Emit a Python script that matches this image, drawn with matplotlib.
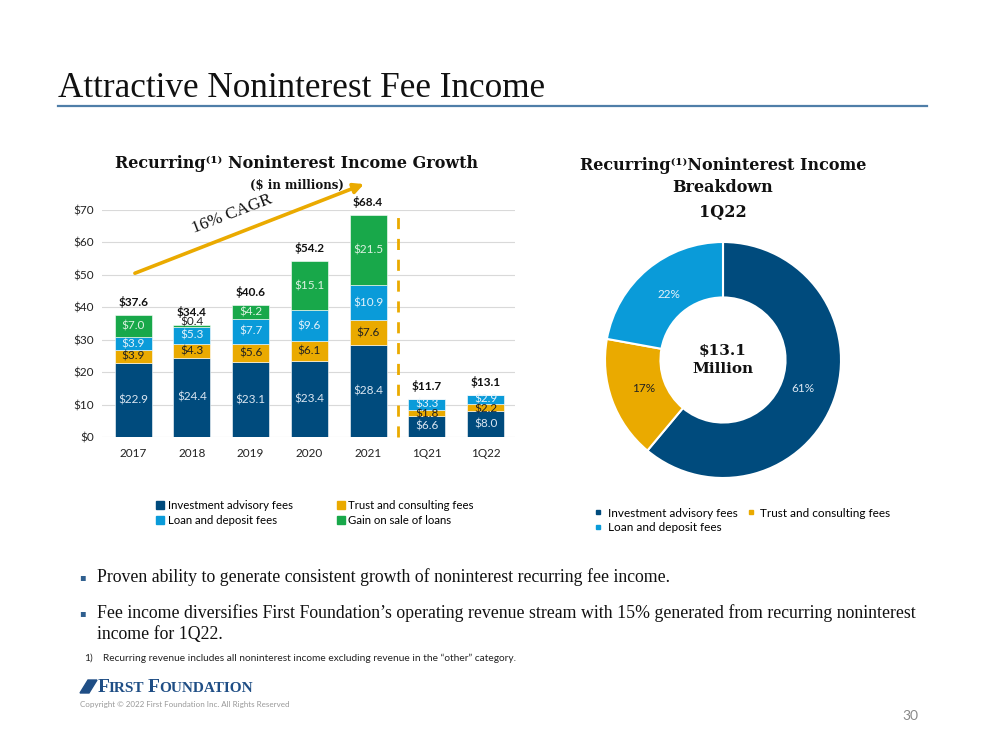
import matplotlib
matplotlib.use("Agg")
import matplotlib.pyplot as plt
import numpy as np
from matplotlib.patches import Rectangle, Polygon

# ---------------- data ----------------
categories = ["2017", "2018", "2019", "2020", "2021", "1Q21", "1Q22"]
investment = [22.9, 24.4, 23.1, 23.4, 28.4, 6.6, 8.0]
trust = [3.9, 4.3, 5.6, 6.1, 7.6, 1.8, 2.2]
loan = [3.9, 5.3, 7.7, 9.6, 10.9, 3.3, 2.9]
gain = [7.0, 0.4, 4.2, 15.1, 21.5, 0.0, 0.0]
totals = [37.6, 34.4, 40.6, 54.2, 68.4, 11.7, 13.1]
yticks = [0, 10, 20, 30, 40, 50, 60, 70]
series_names = ["Investment advisory fees", "Trust and consulting fees",
                "Loan and deposit fees", "Gain on sale of loans"]

pie_labels = ["Investment advisory fees", "Trust and consulting fees", "Loan and deposit fees"]
pie_values = [8.0, 2.2, 2.9]
pie_pct_text = ["61%", "17%", "22%"]

NAVY = "#004B7D"
GOLD = "#EAAA00"
BLUE = "#0A9BD9"
GREEN = "#18A84A"
colors = [NAVY, GOLD, BLUE, GREEN]

SANS = ["Lato", "DejaVu Sans"]
SERIF = ["DejaVu Serif"]
TSERIF = ["Liberation Serif", "DejaVu Serif"]

fig = plt.figure(figsize=(9.99, 7.5), dpi=100)

# ---------------- page title ----------------
fig.text(58 / 999, 1 - 97 / 750, "Attractive Noninterest Fee Income",
         family=TSERIF, fontsize=25.3, color="#111111", ha="left", va="baseline")
fig.add_artist(plt.Line2D([58 / 999, 927 / 999], [1 - 106 / 750, 1 - 106 / 750],
                          color="#4F7EA8", lw=1.6, transform=fig.transFigure))

# ---------------- bar chart ----------------
ax = fig.add_axes([102 / 999, 1 - 437 / 750, 413 / 999, 227 / 750])
x = np.arange(len(categories))
w = 0.63
bottoms = np.zeros(len(categories))
stack = [investment, trust, loan, gain]
for vals, c in zip(stack, colors):
    ax.bar(x, vals, w, bottom=bottoms, color=c, zorder=3, edgecolor="white", linewidth=0.4)
    bottoms = bottoms + np.array(vals)

ax.set_xlim(-0.53, 6.5)
ax.set_ylim(0, 70)
ax.set_yticks(yticks)
ax.set_yticklabels([f"${v}" for v in yticks], family=SANS, fontsize=8.5, color="#222222")
ax.set_xticks(x)
ax.set_xticklabels(categories, family=SANS, fontsize=8.5, color="#222222")
ax.tick_params(length=0, pad=8)
ax.tick_params(axis="y", pad=6)
ax.grid(axis="y", color="#D9D9D9", lw=0.8, zorder=0)
for s in ax.spines.values():
    s.set_visible(False)

lab_colors = ["#DCE7F2", "#222222", "#E4F2FB", "#DDF2E2"]
for i in range(len(categories)):
    base = 0.0
    for k, vals in enumerate(stack):
        v = vals[i]
        if v <= 0:
            continue
        if v < 1.0:
            ax.text(x[i], base + v + 1.0, f"${v:.1f}", ha="center", va="center",
                    family=SANS, fontsize=8.5, color="#222222", zorder=5)
        else:
            yc = base + v / 2
            col = lab_colors[k]
            if i >= 5 and k == 1:
                yc -= 0.5
            ax.text(x[i], yc, f"${v:.1f}", ha="center", va="center",
                    family=SANS, fontsize=8.5, color=col, zorder=5)
        base += v
    ax.text(x[i], totals[i] + 4.0, f"${totals[i]:.1f}", ha="center", va="center",
            family=SANS, fontsize=8.5, fontweight="bold", color="#111111", zorder=5,
            clip_on=False)

# dashed separator
ax.plot([4.5, 4.5], [0, 70.5], color=GOLD, lw=2, ls=(0, (4, 3.5)), zorder=4, clip_on=False)

# CAGR arrow
ax.annotate("", xy=(3.93, 78.0), xytext=(0.03, 50.5),
            arrowprops=dict(arrowstyle="-|>,head_length=0.6,head_width=0.3",
                            color=GOLD, lw=2.6, shrinkA=0, shrinkB=0),
            annotation_clip=False, zorder=6)
fig.text(232 / 999, 1 - 214 / 750, "16% CAGR", family=TSERIF, fontsize=12.5,
         rotation=21, ha="center", va="center", color="#111111")

# chart title
fig.text(297 / 999, 1 - 163 / 750, "Recurring\u207d\u00b9\u207e Noninterest Income Growth",
         family=SERIF, fontsize=11.5, fontweight="bold", ha="center", va="center", color="#111111")
fig.text(297 / 999, 1 - 185 / 750, "($ in millions)", family=SERIF, fontsize=8.5,
         fontweight="bold", ha="center", va="center", color="#111111")

# bar legend (row-major order: fill column-wise)
order = [0, 2, 1, 3]
handles = [Rectangle((0, 0), 1, 1, color=colors[j]) for j in order]
labels = [series_names[j] for j in order]
fig.legend(handles, labels, loc="center", bbox_to_anchor=(315 / 999, 1 - 513 / 750),
           ncol=2, frameon=False, prop={"family": SANS, "size": 8.2},
           handlelength=0.7, handleheight=0.7, handletextpad=0.3,
           columnspacing=3.9, labelspacing=0.35)

# ---------------- donut ----------------
pax = fig.add_axes([(723 - 118) / 999, (750 - 360 - 118) / 750, 236 / 999, 236 / 750])
wedges, _ = pax.pie(pie_values, colors=[NAVY, GOLD, BLUE], startangle=90, counterclock=False,
                    radius=1.0, wedgeprops=dict(width=0.47, edgecolor="white", linewidth=1.5))
pax.set_xlim(-1, 1)
pax.set_ylim(-1, 1)
pax.set_aspect("equal")
total = sum(pie_values)
ang = 90.0
pct_cols = ["#DCE7F2", "#222222", "#E4F2FB"]
for v, t, c in zip(pie_values, pie_pct_text, pct_cols):
    sweep = 360 * v / total
    mid = np.deg2rad(ang - sweep / 2)
    r = 0.72
    pax.text(r * np.cos(mid), r * np.sin(mid), t, ha="center", va="center",
             family=SANS, fontsize=8.5, color=c)
    ang -= sweep
pax.text(0, 0, "$13.1\nMillion", ha="center", va="center", family=SERIF,
         fontsize=11, fontweight="bold", color="#111111", linespacing=1.3)

fig.text(723 / 999, 1 - 165 / 750, "Recurring\u207d\u00b9\u207eNoninterest Income",
         family=SERIF, fontsize=11.5, fontweight="bold", ha="center", va="center", color="#111111")
fig.text(723 / 999, 1 - 188 / 750, "Breakdown", family=SERIF, fontsize=11.5,
         fontweight="bold", ha="center", va="center", color="#111111")
fig.text(723 / 999, 1 - 212 / 750, "1Q22", family=SERIF, fontsize=11.5,
         fontweight="bold", ha="center", va="center", color="#111111")

pcolors = [NAVY, GOLD, BLUE]
porder = [0, 2, 1]
phandles = [plt.Line2D([], [], marker="s", ls="", color=pcolors[j], markersize=3.5) for j in porder]
fig.legend(phandles, [pie_labels[j] for j in porder], loc="upper left",
           bbox_to_anchor=(583 / 999, 1 - 497 / 750),
           ncol=2, frameon=False, prop={"family": SANS, "size": 8.5},
           handlelength=0.8, handletextpad=0.4, columnspacing=0.7, labelspacing=0.3)

# ---------------- bullets ----------------
for yb in [577, 613]:
    fig.text(79 / 999, 1 - yb / 750, "\u25aa", family=["DejaVu Sans"], fontsize=7,
             color="#2F5F8F", ha="left", va="center")
fig.text(97 / 999, 1 - 577 / 750,
         "Proven ability to generate consistent growth of noninterest recurring fee income.",
         family=TSERIF, fontsize=12.8, color="#111111", ha="left", va="center")
fig.text(97 / 999, 1 - 613 / 750,
         "Fee income diversifies First Foundation\u2019s operating revenue stream with 15% generated from recurring noninterest",
         family=TSERIF, fontsize=12.8, color="#111111", ha="left", va="center")
fig.text(97 / 999, 1 - 634 / 750, "income for 1Q22.",
         family=TSERIF, fontsize=12.8, color="#111111", ha="left", va="center")
fig.text(84 / 999, 1 - 658 / 750, "1)", family=SANS, fontsize=7.3, color="#222222",
         ha="left", va="center")
fig.text(103 / 999, 1 - 658 / 750,
         "Recurring revenue includes all noninterest income excluding revenue in the \u201cother\u201d category.",
         family=SANS, fontsize=7.3, color="#222222", ha="left", va="center")

# ---------------- footer ----------------
logo = Polygon([[80 / 999, 1 - 693 / 750], [88 / 999, 1 - 680 / 750],
                [97 / 999, 1 - 680 / 750], [89 / 999, 1 - 693 / 750]],
               closed=True, transform=fig.transFigure, color="#1F4E85")
fig.add_artist(logo)
fig.text(98 / 999, 1 - 687 / 750, "F", family=TSERIF, fontsize=14, fontweight="bold",
         color="#1F4E85", ha="left", va="center")
fig.text(109 / 999, 1 - 688 / 750, "IRST", family=TSERIF, fontsize=11, fontweight="bold",
         color="#1F4E85", ha="left", va="center")
fig.text(148 / 999, 1 - 687 / 750, "F", family=TSERIF, fontsize=14, fontweight="bold",
         color="#1F4E85", ha="left", va="center")
fig.text(159 / 999, 1 - 688 / 750, "OUNDATION", family=TSERIF, fontsize=11, fontweight="bold",
         color="#1F4E85", ha="left", va="center")
fig.text(80 / 999, 1 - 705 / 750, "Copyright \u00a9 2022 First Foundation Inc. All Rights Reserved",
         family=SANS, fontsize=5.8, color="#999999", ha="left", va="center")
fig.text(918 / 999, 1 - 716 / 750, "30", family=SANS, fontsize=10, color="#888888",
         ha="right", va="center")

fig.savefig("out.png", dpi=100)
